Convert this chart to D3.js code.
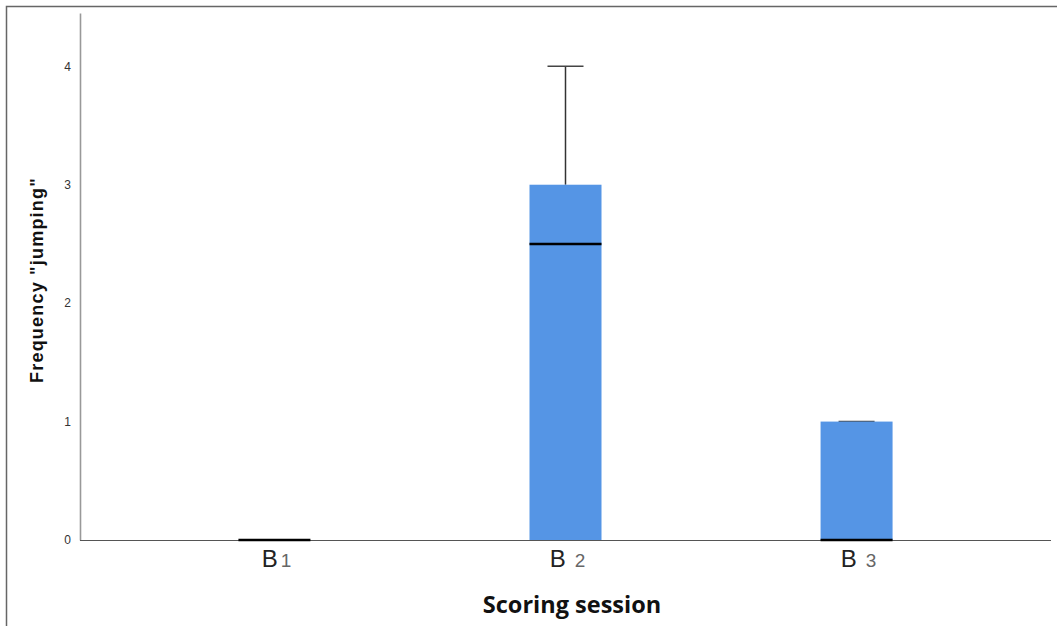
<!DOCTYPE html>
<html><head><meta charset="utf-8">
<script src="https://cdn.jsdelivr.net/npm/d3@7"></script>
<style>body{margin:0;background:#fff}svg{display:block}</style>
</head><body>
<svg id="c" width="1057" height="626"></svg>
<script>
const categories = ["B1", "B2", "B3"];
const catLetter = ["B", "B", "B"];
const catNumber = ["1", "2", "3"];
const q1 = [0, 0, 0];
const median = [0, 2.5, 0];
const q3 = [0, 3, 1];
const whiskerLow = [0, 0, 0];
const whiskerHigh = [0, 4, 1];
const yTicks = [0, 1, 2, 3, 4];

(function () {
const svg = d3.select("#c");
const mLeft = 80, mRight = 1051, mTop = 13, mBottom = 540;

const x = d3.scalePoint().domain(categories).range([mLeft, mRight]).padding(0.668);
const y = d3.scaleLinear().domain([0, 4.45]).range([mBottom, mTop]);

// outer frame
svg.append("path").attr("d", "M6.5,626 V6.5 H1057").attr("fill", "none").attr("stroke", "#666").attr("stroke-width", 1.5);

// y axis
const yAxis = svg.append("g").attr("transform", `translate(${mLeft},0)`)
  .call(d3.axisLeft(y).tickValues(yTicks).tickSize(0).tickPadding(9).tickFormat(d3.format("d")));
yAxis.select(".domain").attr("stroke", "#999").attr("stroke-width", 1.6);
yAxis.selectAll("text").attr("font-family", "Liberation Sans, Arial, sans-serif").attr("font-size", 12).attr("fill", "#333");

// x axis
const xAxis = svg.append("g").attr("transform", `translate(0,${mBottom})`)
  .call(d3.axisBottom(x).tickSize(0).tickFormat(""));
xAxis.select(".domain").attr("d", `M${mLeft},0.5H${mRight}`).attr("stroke", "#555").attr("stroke-width", 1.2);

const bw = 72, cap = 18;
const gaps = [3, 9, 9];
const g = svg.append("g");
categories.forEach((c, i) => {
  const cx = x(c);
  if (whiskerHigh[i] > q3[i]) {
    g.append("line").attr("x1", cx).attr("x2", cx).attr("y1", y(q3[i])).attr("y2", y(whiskerHigh[i])).attr("stroke", "#333").attr("stroke-width", 1.5);
  }
  if (whiskerLow[i] < q1[i]) {
    g.append("line").attr("x1", cx).attr("x2", cx).attr("y1", y(q1[i])).attr("y2", y(whiskerLow[i])).attr("stroke", "#333").attr("stroke-width", 1.5);
  }
  if (q3[i] > q1[i]) {
    g.append("line").attr("x1", cx - cap).attr("x2", cx + cap).attr("y1", y(whiskerHigh[i])).attr("y2", y(whiskerHigh[i])).attr("stroke", "#444").attr("stroke-width", 1.5);
    g.append("rect").attr("x", cx - bw / 2).attr("width", bw).attr("y", y(q3[i])).attr("height", y(q1[i]) - y(q3[i])).attr("fill", "#5595e5");
  }
  g.append("line").attr("x1", cx - bw / 2).attr("x2", cx + bw / 2).attr("y1", y(median[i])).attr("y2", y(median[i])).attr("stroke", "#000").attr("stroke-width", 2.5);
  const t = g.append("text").attr("x", cx + 2).attr("y", 567).attr("text-anchor", "middle").attr("font-family", "Liberation Sans, Arial, sans-serif");
  t.append("tspan").attr("font-size", 24).attr("fill", "#222").text(catLetter[i]);
  t.append("tspan").attr("font-size", 19).attr("fill", "#666").attr("dx", gaps[i]).text(catNumber[i]);
});

svg.append("text").attr("transform", `translate(43,280) rotate(-90)`).attr("text-anchor", "middle")
  .attr("font-family", "Liberation Sans, Arial, sans-serif").attr("font-weight", "bold").attr("font-size", 18)
  .attr("letter-spacing", 1.2).attr("fill", "#111")
  .text('Frequency "jumping"');
svg.append("text").attr("x", 572).attr("y", 613).attr("text-anchor", "middle")
  .attr("font-family", "Open Sans, sans-serif").attr("font-weight", "bold").attr("font-size", 23.5).attr("fill", "#111")
  .text("Scoring session");
})();
</script>
</body></html>
